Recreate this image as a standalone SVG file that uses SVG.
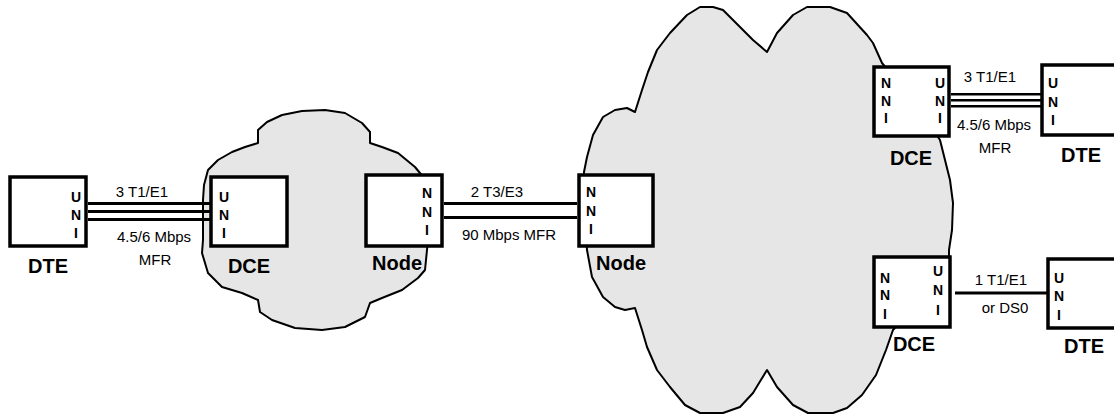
<svg xmlns="http://www.w3.org/2000/svg" width="1114" height="415" viewBox="0 0 1114 415">
<style>
.cloud{fill:#e6e6e6;stroke:#000;stroke-width:2;stroke-linejoin:round}
.box{fill:#fff;stroke:#000;stroke-width:3.5}
.link{stroke:#000;stroke-width:3;fill:none}
.link2{stroke:#000;stroke-width:2.6;fill:none}
.port{font-family:"Liberation Sans",Arial,sans-serif;font-weight:bold;font-size:14px;text-anchor:middle}
.lbl{font-family:"Liberation Sans",Arial,sans-serif;font-weight:bold;font-size:20px;text-anchor:middle}
.ltxt{font-family:"Liberation Sans",Arial,sans-serif;font-size:15px;text-anchor:middle}
</style>
<g id="clouds">
<path id="cloud-small" class="cloud" d="M258,143 L258,130 L267,122 L282,115 L302,111 L325,110 L345,113 L362,123 L370,132 L370,143 L382,147 L398,153 L415,167 L424,178 L428,200 L428,240 L427,250 L425,270 L418,278 L402,290 L382,298 L370,303 L365,317 L345,327 L322,330 L295,328 L272,320 L260,312 L258,300 L242,293 L222,287 L208,273 L202,253 L203,240 L203,200 L204,185 L208,170 L218,160 L232,152 L245,147 Z"/>
<path id="cloud-large" class="cloud" d="M635,112 L642,90 L648,72 L657,50 L670,33 L687,15 L700,7 L713,7 L723,10 L740,27 L753,40 L767,52 L777,33 L793,15 L807,7 L830,7 L847,13 L867,35 L873,43 L882,63 L920,110 L940,140 L945,160 L950,180 L953,203 L952,230 L949,250 L949,257 L920,300 L893,330 L886,350 L876,375 L862,395 L847,408 L833,413 L808,413 L793,405 L777,387 L767,370 L753,393 L740,407 L723,413 L700,413 L685,405 L670,387 L657,370 L647,347 L642,330 L635,308 L625,310 L615,307 L603,297 L592,277 L587,250 L584,210 L584,172 L587,157 L593,135 L603,117 L615,110 L627,108 Z"/>
</g>
<g id="connectors">
<line class="link" x1="88" y1="203.5" x2="210" y2="203.5"/>
<line class="link" x1="88" y1="211.5" x2="210" y2="211.5"/>
<line class="link" x1="88" y1="219.5" x2="210" y2="219.5"/>
<line class="link" x1="444" y1="203.5" x2="577" y2="203.5"/>
<line class="link" x1="444" y1="217.5" x2="577" y2="217.5"/>
<line class="link2" x1="951" y1="94.3" x2="1041" y2="94.3"/>
<line class="link2" x1="951" y1="100.3" x2="1041" y2="100.3"/>
<line class="link2" x1="951" y1="106.3" x2="1041" y2="106.3"/>
<line class="link" x1="955" y1="293" x2="1047" y2="293"/>
<text class="ltxt" x="142" y="197">3 T1/E1</text>
<text class="ltxt" x="154" y="242">4.5/6 Mbps</text>
<text class="ltxt" x="155" y="265">MFR</text>
<text class="ltxt" x="497" y="197">2 T3/E3</text>
<text class="ltxt" x="509" y="240">90 Mbps MFR</text>
<text class="ltxt" x="990" y="82">3 T1/E1</text>
<text class="ltxt" x="994" y="130">4.5/6 Mbps</text>
<text class="ltxt" x="995" y="153">MFR</text>
<text class="ltxt" x="1001" y="285">1 T1/E1</text>
<text class="ltxt" x="1005" y="313">or DS0</text>
</g>
<g id="dte-left">
<rect class="box" x="10" y="177" width="76" height="69"/>
<text class="port" x="76" y="202">U</text><text class="port" x="76" y="220">N</text><text class="port" x="76" y="238">I</text>
<text class="lbl" x="48" y="273">DTE</text>
</g>
<g id="dce-left">
<rect class="box" x="211" y="177" width="76" height="69"/>
<text class="port" x="224" y="202">U</text><text class="port" x="224" y="220">N</text><text class="port" x="224" y="238">I</text>
<text class="lbl" x="249" y="273">DCE</text>
</g>
<g id="node-left">
<rect class="box" x="366" y="175" width="76" height="71"/>
<text class="port" x="427" y="198">N</text><text class="port" x="427" y="217">N</text><text class="port" x="427" y="235">I</text>
<text class="lbl" x="397" y="270">Node</text>
</g>
<g id="node-right">
<rect class="box" x="579" y="175" width="74" height="71"/>
<text class="port" x="591" y="197">N</text><text class="port" x="591" y="216">N</text><text class="port" x="591" y="234">I</text>
<text class="lbl" x="621" y="270">Node</text>
</g>
<g id="dce-top">
<rect class="box" x="874" y="67" width="75" height="69"/>
<text class="port" x="886" y="88">N</text><text class="port" x="886" y="106">N</text><text class="port" x="886" y="123">I</text>
<text class="port" x="940" y="88">U</text><text class="port" x="940" y="106">N</text><text class="port" x="940" y="123">I</text>
<text class="lbl" x="911" y="165">DCE</text>
</g>
<g id="dte-top">
<rect class="box" x="1042" y="65" width="80" height="70"/>
<text class="port" x="1053" y="88">U</text><text class="port" x="1053" y="107">N</text><text class="port" x="1053" y="125">I</text>
<text class="lbl" x="1081" y="162">DTE</text>
</g>
<g id="dce-bottom">
<rect class="box" x="874" y="257" width="76" height="70"/>
<text class="port" x="885" y="283">N</text><text class="port" x="885" y="300">N</text><text class="port" x="885" y="319">I</text>
<text class="port" x="938" y="276">U</text><text class="port" x="938" y="295">N</text><text class="port" x="938" y="315">I</text>
<text class="lbl" x="914" y="351">DCE</text>
</g>
<g id="dte-bottom">
<rect class="box" x="1048" y="259" width="80" height="69"/>
<text class="port" x="1059" y="283">U</text><text class="port" x="1059" y="301">N</text><text class="port" x="1059" y="320">I</text>
<text class="lbl" x="1084" y="353">DTE</text>
</g>
</svg>
